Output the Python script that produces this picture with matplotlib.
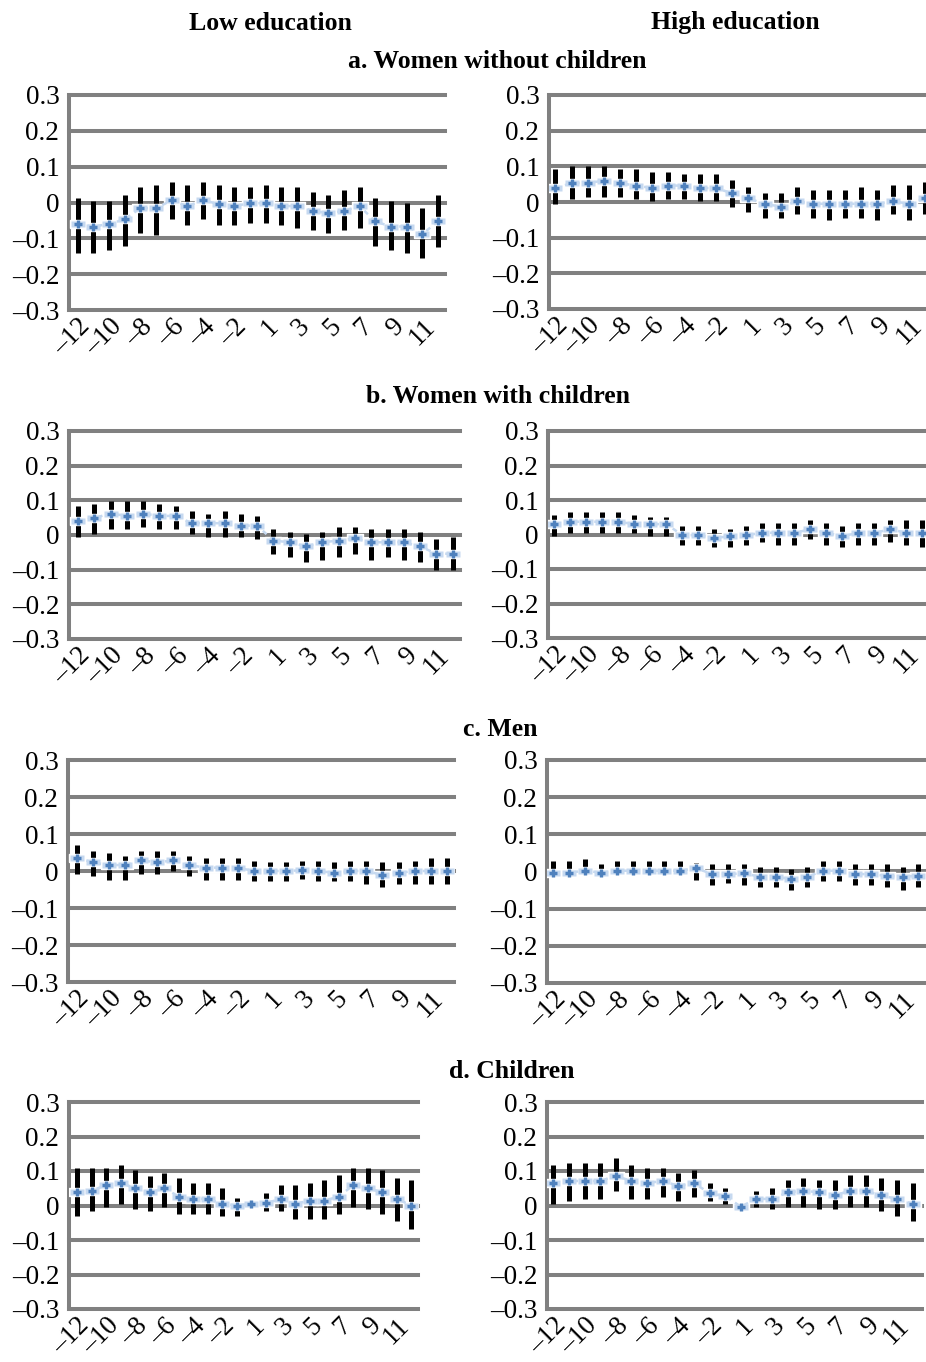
import matplotlib
matplotlib.use("Agg")
import matplotlib.pyplot as plt
import matplotlib.transforms as mtransforms
import numpy as np

W, H = 926, 1362

# event time: -12..-1, 1..12
periods = [-12, -11, -10, -9, -8, -7, -6, -5, -4, -3, -2, -1,
           1, 2, 3, 4, 5, 6, 7, 8, 9, 10, 11, 12]
tick_labels = ["–12", "–10", "–8", "–6", "–4", "–2", "1", "3", "5", "7", "9", "11"]
y_ticks = [-0.3, -0.2, -0.1, 0, 0.1, 0.2, 0.3]
y_labels = ["–0.3", "–0.2", "–0.1", "0", "0.1", "0.2", "0.3"]

# a. Women without children
a_low_est = [-0.06, -0.067, -0.06, -0.047, -0.016, -0.016, 0.006, -0.01, 0.006, -0.004, -0.01, -0.002,
             -0.002, -0.01, -0.01, -0.023, -0.03, -0.023, -0.01, -0.053, -0.067, -0.067, -0.088, -0.053]
a_low_lo = [-0.14, -0.14, -0.133, -0.12, -0.084, -0.09, -0.047, -0.063, -0.047, -0.063, -0.063, -0.056,
            -0.056, -0.063, -0.07, -0.077, -0.084, -0.077, -0.07, -0.12, -0.133, -0.14, -0.154, -0.125]
a_low_hi = [0.012, 0.005, 0.005, 0.02, 0.042, 0.05, 0.056, 0.05, 0.056, 0.05, 0.042, 0.042,
            0.05, 0.042, 0.042, 0.028, 0.02, 0.035, 0.042, 0.012, 0.005, 0.0, -0.014, 0.02]
a_high_est = [0.039, 0.053, 0.053, 0.06, 0.053, 0.046, 0.039, 0.046, 0.046, 0.039, 0.039, 0.024,
              0.01, -0.005, -0.013, 0.002, -0.005, -0.005, -0.005, -0.005, -0.005, 0.002, -0.005, 0.01]
a_high_lo = [-0.007, 0.008, 0.015, 0.015, 0.015, 0.008, 0.002, 0.008, 0.008, 0.002, 0.002, -0.013,
             -0.027, -0.044, -0.044, -0.034, -0.044, -0.05, -0.044, -0.044, -0.05, -0.034, -0.05, -0.034]
a_high_hi = [0.092, 0.1, 0.1, 0.1, 0.092, 0.092, 0.084, 0.084, 0.078, 0.078, 0.078, 0.063,
             0.041, 0.024, 0.024, 0.041, 0.034, 0.034, 0.034, 0.041, 0.034, 0.049, 0.049, 0.055]

# b. Women with children
b_low_est = [0.041, 0.049, 0.062, 0.055, 0.062, 0.055, 0.055, 0.034, 0.034, 0.034, 0.027, 0.027,
             -0.016, -0.021, -0.033, -0.021, -0.016, -0.01, -0.021, -0.021, -0.021, -0.033, -0.054, -0.054]
b_low_lo = [-0.005, 0.003, 0.017, 0.017, 0.024, 0.017, 0.017, 0.003, -0.005, -0.005, -0.005, -0.011,
            -0.056, -0.064, -0.078, -0.071, -0.064, -0.056, -0.071, -0.064, -0.071, -0.078, -0.1, -0.102]
b_low_hi = [0.084, 0.09, 0.098, 0.098, 0.098, 0.09, 0.084, 0.07, 0.062, 0.07, 0.062, 0.055,
            0.017, 0.01, 0.003, 0.01, 0.024, 0.024, 0.017, 0.017, 0.017, 0.01, -0.011, -0.005]
b_high_est = [0.03, 0.037, 0.037, 0.037, 0.037, 0.03, 0.03, 0.03, -0.002, -0.002, -0.01, -0.005,
              -0.002, 0.005, 0.005, 0.005, 0.015, 0.005, -0.005, 0.005, 0.005, 0.015, 0.005, 0.005]
b_high_lo = [-0.005, 0.003, 0.003, 0.003, 0.003, 0.003, -0.005, -0.005, -0.03, -0.03, -0.037, -0.037,
             -0.03, -0.022, -0.03, -0.03, -0.013, -0.03, -0.037, -0.03, -0.03, -0.022, -0.03, -0.037]
b_high_hi = [0.057, 0.065, 0.065, 0.065, 0.065, 0.057, 0.05, 0.05, 0.025, 0.025, 0.017, 0.017,
             0.025, 0.033, 0.033, 0.033, 0.042, 0.033, 0.025, 0.033, 0.033, 0.042, 0.042, 0.042]

# c. Men
c_low_est = [0.036, 0.023, 0.016, 0.016, 0.029, 0.023, 0.029, 0.016, 0.009, 0.009, 0.009, 0.0,
             0.0, 0.0, 0.002, 0.0, -0.005, 0.0, 0.0, -0.011, -0.005, 0.0, 0.0, 0.0]
c_low_lo = [-0.007, -0.014, -0.023, -0.023, -0.007, -0.007, 0.0, -0.014, -0.023, -0.023, -0.023, -0.027,
            -0.027, -0.027, -0.021, -0.027, -0.027, -0.027, -0.035, -0.044, -0.035, -0.035, -0.035, -0.035]
c_low_hi = [0.07, 0.055, 0.05, 0.041, 0.055, 0.055, 0.055, 0.041, 0.035, 0.035, 0.035, 0.027,
            0.023, 0.023, 0.027, 0.027, 0.023, 0.027, 0.027, 0.023, 0.023, 0.027, 0.035, 0.035]
c_high_est = [-0.003, -0.003, 0.002, -0.003, 0.002, 0.002, 0.002, 0.002, 0.002, 0.009, -0.007, -0.007,
              -0.005, -0.014, -0.014, -0.02, -0.014, 0.002, 0.002, -0.007, -0.007, -0.012, -0.014, -0.012]
c_high_lo = [-0.012, -0.012, -0.005, -0.012, -0.005, -0.005, -0.005, -0.005, -0.005, -0.023, -0.036, -0.03,
             -0.036, -0.043, -0.043, -0.05, -0.043, -0.025, -0.025, -0.036, -0.036, -0.043, -0.05, -0.043]
c_high_hi = [0.027, 0.027, 0.033, 0.02, 0.027, 0.027, 0.027, 0.027, 0.027, 0.024, 0.02, 0.02,
             0.02, 0.013, 0.013, 0.006, 0.013, 0.027, 0.027, 0.02, 0.02, 0.02, 0.013, 0.02]

# d. Children
d_low_est = [0.038, 0.043, 0.059, 0.066, 0.05, 0.038, 0.05, 0.026, 0.019, 0.019, 0.005, 0.0,
             0.005, 0.007, 0.019, 0.005, 0.014, 0.014, 0.026, 0.059, 0.05, 0.038, 0.019, 0.0]
d_low_lo = [-0.031, -0.016, -0.003, 0.005, -0.01, -0.016, -0.003, -0.024, -0.024, -0.024, -0.031, -0.031,
            -0.003, -0.016, -0.016, -0.038, -0.038, -0.038, -0.024, -0.003, -0.01, -0.024, -0.046, -0.067]
d_low_hi = [0.11, 0.11, 0.108, 0.117, 0.102, 0.086, 0.095, 0.079, 0.066, 0.066, 0.05, 0.022,
            0.012, 0.036, 0.059, 0.059, 0.066, 0.073, 0.088, 0.11, 0.11, 0.102, 0.081, 0.074]
d_high_est = [0.065, 0.071, 0.071, 0.071, 0.086, 0.071, 0.065, 0.071, 0.057, 0.065, 0.036, 0.027,
              -0.003, 0.019, 0.019, 0.038, 0.043, 0.038, 0.029, 0.043, 0.043, 0.029, 0.019, 0.005]
d_high_lo = [0.005, 0.012, 0.019, 0.019, 0.041, 0.019, 0.019, 0.026, 0.012, 0.026, 0.012, 0.005,
             -0.006, -0.003, -0.01, -0.003, -0.003, -0.01, -0.01, -0.003, -0.003, -0.016, -0.031, -0.046]
d_high_hi = [0.116, 0.124, 0.124, 0.124, 0.138, 0.116, 0.11, 0.11, 0.095, 0.102, 0.065, 0.05,
             0.0, 0.043, 0.05, 0.073, 0.081, 0.073, 0.073, 0.088, 0.088, 0.081, 0.073, 0.065]

panels = [
    # (est, lo, hi, box in px: left, top, right, bottom, xlim start)
    (a_low_est, a_low_lo, a_low_hi, (69, 95, 445, 310), -0.55),
    (a_high_est, a_high_lo, a_high_hi, (549, 95, 935, 309), -0.4),
    (b_low_est, b_low_lo, b_low_hi, (69, 431, 460, 639), -0.55),
    (b_high_est, b_high_lo, b_high_hi, (548, 431, 932, 638), -0.4),
    (c_low_est, c_low_lo, c_low_hi, (68, 760, 454, 982), -0.55),
    (c_high_est, c_high_lo, c_high_hi, (547, 760, 928, 983), -0.4),
    (d_low_est, d_low_lo, d_low_hi, (69, 1102, 418, 1309), -0.55),
    (d_high_est, d_high_lo, d_high_hi, (547, 1102, 922, 1309), -0.4),
]

plt.rcParams["font.family"] = ["Liberation Serif", "DejaVu Serif"]
GRAY = "#808080"
BLUE = "#4f81bd"
HALO = "#c6d9f0"

fig = plt.figure(figsize=(W / 100, H / 100), dpi=100)

rect = [(-1, -0.5), (1, -0.5), (1, 0.5), (-1, 0.5), (-1, -0.5)]
shift = mtransforms.ScaledTranslation(9 / 100, 0, fig.dpi_scale_trans)

for est, lo, hi, (l, t, r, b), x0 in panels:
    ax = fig.add_axes([l / W, 1 - b / H, (r - l) / W, (b - t) / H])
    x = np.arange(len(periods))
    ax.vlines(x, lo, hi, color="black", lw=3.6, zorder=3)
    ax.plot(x, est, ls="none", marker=rect, ms=12, mfc="white", mec="white", zorder=4)
    ax.plot(x, est, ls=(0, (2, 2)), color=HALO, lw=1.8, zorder=4)
    ax.plot(x, est, ls="none", marker=rect, ms=10, mfc=HALO, mec="none", zorder=5)
    ax.plot(x, est, ls="none", marker="+", ms=6, mew=2.4, color=BLUE, zorder=6)

    ax.set_xlim(x0, x0 + 24)
    ax.set_ylim(-0.3, 0.3)
    ax.set_yticks(y_ticks)
    ax.set_yticklabels(y_labels, fontsize=19.5)
    ax.set_xticks(x[::2])
    ax.set_xticklabels(tick_labels, fontsize=19.5, rotation=45, ha="right", va="top",
                       rotation_mode="anchor")
    for lab in ax.get_xticklabels():
        lab.set_transform(lab.get_transform() + shift)
    ax.tick_params(length=0)
    ax.tick_params(axis="y", pad=7)
    ax.tick_params(axis="x", pad=3)
    ax.yaxis.grid(True, color=GRAY, lw=2.9)
    for gl in ax.get_ygridlines():
        gl.set_clip_on(False)
    ax.set_axisbelow(True)
    for s in ["top", "right", "bottom"]:
        ax.spines[s].set_visible(False)
    ax.spines["left"].set_color(GRAY)
    ax.spines["left"].set_linewidth(2.9)

title_kw = dict(fontsize=18.5, fontweight="bold", ha="center", va="center")
fig.text(270 / W, 1 - 23 / H, "Low education", **title_kw)
fig.text(735 / W, 1 - 23 / H, "High education", **title_kw)
fig.text(497 / W, 1 - 62 / H, "a. Women without children", **title_kw)
fig.text(498 / W, 1 - 397 / H, "b. Women with children", **title_kw)
fig.text(500 / W, 1 - 729 / H, "c. Men", **title_kw)
fig.text(512 / W, 1 - 1071 / H, "d. Children", **title_kw)

fig.savefig("out.png", dpi=100)
